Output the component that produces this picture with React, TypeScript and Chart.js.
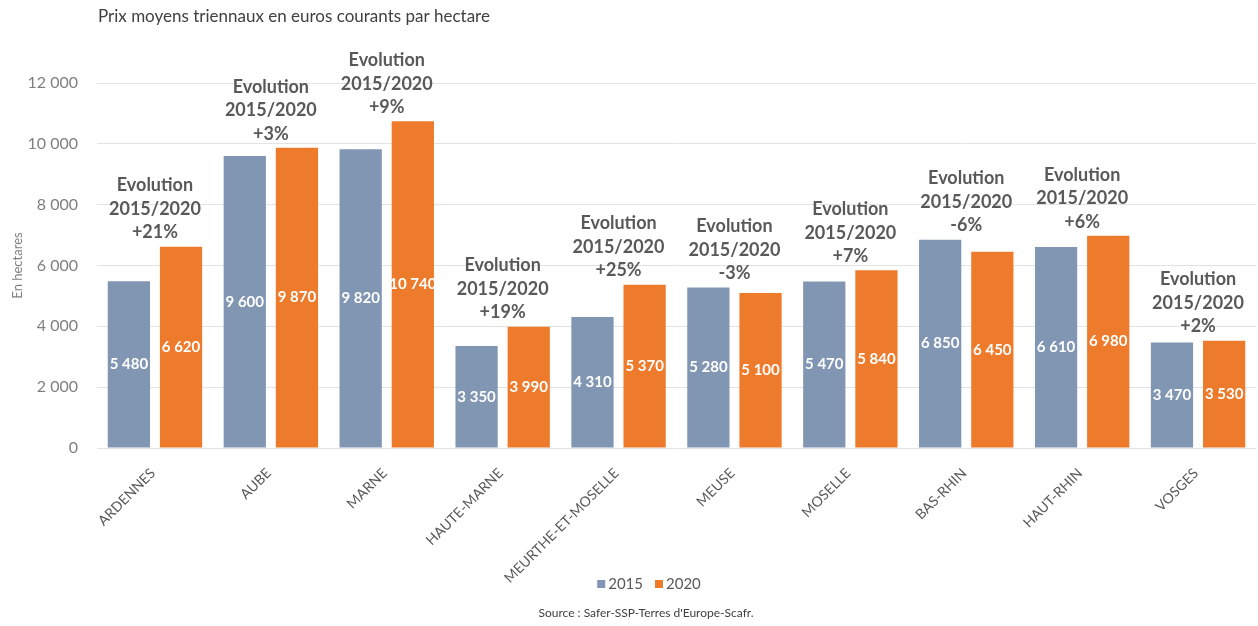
import React, { useEffect, useRef } from "react";
import { Chart, registerables } from "chart.js";

Chart.register(...registerables);

const categories = [
  "ARDENNES",
  "AUBE",
  "MARNE",
  "HAUTE-MARNE",
  "MEURTHE-ET-MOSELLE",
  "MEUSE",
  "MOSELLE",
  "BAS-RHIN",
  "HAUT-RHIN",
  "VOSGES",
];
const values2015 = [5480, 9600, 9820, 3350, 4310, 5280, 5470, 6850, 6610, 3470];
const values2020 = [6620, 9870, 10740, 3990, 5370, 5100, 5840, 6450, 6980, 3530];
const evolutions = ["+21%", "+3%", "+9%", "+19%", "+25%", "-3%", "+7%", "-6%", "+6%", "+2%"];
const yTicks = [0, 2000, 4000, 6000, 8000, 10000, 12000];

const TITLE = "Prix moyens triennaux en euros courants par hectare";
const SOURCE = "Source : Safer-SSP-Terres d'Europe-Scafr.";
const FONT = "Lato, 'Open Sans', sans-serif";
const BLUE = "#8196B3";
const ORANGE = "#EE7B2C";

const fmt = (n: number) => String(n).replace(/\B(?=(\d{3})+(?!\d))/g, " ");

const labelsPlugin = {
  id: "customLabels",
  afterDatasetsDraw(chart: any) {
    const ctx = chart.ctx as CanvasRenderingContext2D;
    const xs = chart.scales.x;
    const ys = chart.scales.y;
    ctx.save();
    // values inside bars
    ctx.font = `bold 15px ${FONT}`;
    ctx.fillStyle = "#ffffff";
    ctx.textAlign = "center";
    ctx.textBaseline = "middle";
    chart.data.datasets.forEach((ds: any, di: number) => {
      const meta = chart.getDatasetMeta(di);
      meta.data.forEach((el: any, i: number) => {
        ctx.fillText(fmt(ds.data[i]), el.x, (el.y + el.base) / 2);
      });
    });
    // evolution annotations
    ctx.font = `bold 18px ${FONT}`;
    ctx.fillStyle = "#595959";
    categories.forEach((_, i) => {
      const x = xs.getPixelForValue(i);
      const top = ys.getPixelForValue(Math.max(values2015[i], values2020[i]));
      const lines = ["Evolution", "2015/2020", evolutions[i]];
      lines.forEach((t, li) => {
        ctx.fillText(t, x, top - 14 - (2 - li) * 23.5);
      });
    });
    ctx.restore();
  },
  afterDraw(chart: any) {
    const ctx = chart.ctx as CanvasRenderingContext2D;
    ctx.save();
    ctx.textBaseline = "middle";
    ctx.fillStyle = "#404040";
    ctx.textAlign = "left";
    ctx.font = `17px ${FONT}`;
    ctx.fillText(TITLE, 98, 17);

    // legend
    ctx.font = `15px ${FONT}`;
    const items = chart.data.datasets.map((ds: any) => ({
      text: ds.label,
      color: ds.backgroundColor,
      w: ctx.measureText(ds.label).width,
    }));
    const box = 8;
    const gapBT = 3;
    const gapItem = 12;
    let total = 0;
    items.forEach((it: any, i: number) => {
      total += box + gapBT + it.w + (i < items.length - 1 ? gapItem : 0);
    });
    let x = 649 - total / 2;
    const ly = 584;
    items.forEach((it: any) => {
      ctx.fillStyle = it.color;
      ctx.fillRect(x, ly - box / 2, box, box);
      x += box + gapBT;
      ctx.fillStyle = "#595959";
      ctx.fillText(it.text, x, ly);
      x += it.w + gapItem;
    });

    ctx.font = `12px ${FONT}`;
    ctx.textAlign = "center";
    ctx.fillStyle = "#404040";
    ctx.fillText(SOURCE, 646, 613);
    ctx.restore();
  },
};

export default function App() {
  const ref = useRef<HTMLCanvasElement>(null);
  useEffect(() => {
    document.body.style.margin = "0";
    const chart = new Chart(ref.current as HTMLCanvasElement, {
      type: "bar",
      data: {
        labels: categories,
        datasets: [
          { label: "2015", data: values2015, backgroundColor: BLUE },
          { label: "2020", data: values2020, backgroundColor: ORANGE },
        ],
      },
      options: {
        responsive: false,
        animation: false,
        datasets: { bar: { categoryPercentage: 0.9, barPercentage: 0.81 } },
        layout: { padding: { top: 83, right: 2, left: 0, bottom: 40 } },
        plugins: {
          legend: { display: false },
          title: { display: false },
          tooltip: { enabled: false },
        },
        scales: {
          x: {
            grid: { display: false },
            border: { display: false },
            ticks: {
              maxRotation: 45,
              minRotation: 45,
              color: "#595959",
              font: { family: FONT, size: 14 },
              padding: 9,
              labelOffset: -2,
            },
            afterFit: (s: any) => {
              s.height = 138;
            },
          },
          y: {
            min: 0,
            max: 12000,
            afterBuildTicks: (s: any) => {
              s.ticks = yTicks.map((v) => ({ value: v }));
            },
            grid: { color: "#e3e3e3", drawTicks: false },
            border: { display: false },
            ticks: {
              color: "#7f7f7f",
              font: { family: FONT, size: 16 },
              padding: 19,
              callback: (v: any) => fmt(Number(v)),
            },
            title: {
              display: true,
              text: "En hectares",
              color: "#7f7f7f",
              font: { family: FONT, size: 13 },
              padding: { top: 10, bottom: 0 },
            },
            afterFit: (s: any) => {
              s.width = 97;
            },
          },
        },
      },
      plugins: [labelsPlugin],
    });
    return () => chart.destroy();
  }, []);
  return <canvas ref={ref} width={1258} height={626} />;
}
